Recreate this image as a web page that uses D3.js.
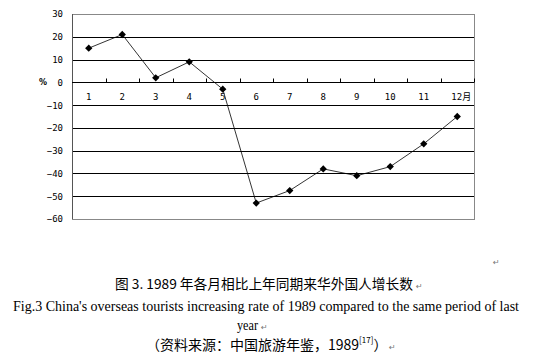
<!DOCTYPE html>
<html><head><meta charset="utf-8">
<script src="https://cdn.jsdelivr.net/npm/d3@7"></script>
<style>body{margin:0;background:#fff}svg{display:block}</style>
</head><body>
<svg id="c" width="539" height="357"></svg>
<script>
const months = ["1","2","3","4","5","6","7","8","9","10","11","12月"];
const values = [15, 21, 2, 9, -3, -53, -47.5, -38, -41, -37, -27, -15];
const yTicks = [30, 20, 10, 0, -10, -20, -30, -40, -50, -60];

const svg = d3.select("#c");
const L = 72, R = 474, T = 14, B = 219;
const x = d3.scaleBand().domain(months).range([L, R]);
const y = d3.scaleLinear().domain([-60, 30]).range([B, T]);

// gridlines
svg.append("g").selectAll("line").data(yTicks.filter(v => v !== 30 && v !== -60))
  .join("line").attr("x1", L).attr("x2", R)
  .attr("y1", d => Math.round(y(d)) + 0.5).attr("y2", d => Math.round(y(d)) + 0.5)
  .attr("stroke", "#000").attr("stroke-width", 1);
// border
svg.append("rect").attr("x", L + 0.5).attr("y", Math.round(T) + 0.5)
  .attr("width", R - L).attr("height", Math.round(B) - Math.round(T))
  .attr("fill", "none").attr("stroke", "#888");
svg.append("line").attr("x1", L + 0.5).attr("x2", L + 0.5).attr("y1", T).attr("y2", B)
  .attr("stroke", "#555");

// y axis labels
const yAxis = d3.axisLeft(y).tickValues(yTicks).tickSize(0).tickPadding(9)
  .tickFormat(d => d < 0 ? "\u2212" + Math.abs(d) : d);
const ga = svg.append("g").attr("transform", `translate(${L},0)`).call(yAxis);
ga.select(".domain").remove();
ga.selectAll("text").attr("font-family", "DejaVu Sans Mono").attr("font-size", 9).attr("fill", "#000");

svg.append("text").attr("x", 43).attr("y", y(0) + 3).attr("font-family", "DejaVu Sans")
  .attr("font-size", 8).attr("font-weight", "bold").attr("text-anchor", "middle").text("%");

// x axis at 0
const gx = svg.append("g").attr("transform", `translate(0,${Math.round(y(0)) + 0.5})`);
gx.append("line").attr("x1", L).attr("x2", R).attr("stroke", "#000");
gx.selectAll("line.tk").data(months).join("line").attr("class", "tk")
  .attr("x1", d => Math.round(x(d) + x.bandwidth()) + 0.5)
  .attr("x2", d => Math.round(x(d) + x.bandwidth()) + 0.5)
  .attr("y1", 0).attr("y2", -4).attr("stroke", "#000");
gx.selectAll("text").data(months).join("text")
  .attr("x", d => x(d) + x.bandwidth() / 2 + (d === "12月" ? 4 : 0))
  .attr("y", 17).attr("text-anchor", "middle")
  .attr("font-family", "DejaVu Sans Mono, Noto Sans CJK SC").attr("font-size", 9).text(d => d);

// line
const line = d3.line().x((d, i) => x(months[i]) + x.bandwidth() / 2).y(d => y(d));
svg.append("path").datum(values).attr("d", line).attr("fill", "none").attr("stroke", "#000").attr("stroke-width", 0.8);
svg.append("g").selectAll("path").data(values).join("path")
  .attr("transform", (d, i) => `translate(${x(months[i]) + x.bandwidth() / 2},${y(d)})`)
  .attr("d", d3.symbol(d3.symbolDiamond2, 34)).attr("fill", "#000");

// captions
const ret = "\u21B5";
function retMark(px, py) {
  svg.append("text").attr("x", px).attr("y", py).attr("font-size", 8).attr("fill", "#777")
    .attr("font-family", "DejaVu Sans").text(ret);
}
retMark(493, 265);
svg.append("text").attr("x", 115).attr("y", 289).attr("font-family", "Noto Sans CJK SC").attr("font-size", 13.5)
  .attr("textLength", 298).attr("lengthAdjust", "spacingAndGlyphs")
  .text("图 3. 1989 年各月相比上年同期来华外国人增长数");
retMark(416, 289);
svg.append("text").attr("x", 13).attr("y", 311).attr("font-family", "Liberation Serif").attr("font-size", 14.5)
  .attr("textLength", 506).attr("lengthAdjust", "spacingAndGlyphs")
  .text("Fig.3 China's overseas tourists increasing rate of 1989 compared to the same period of last");
svg.append("text").attr("x", 237).attr("y", 330).attr("font-family", "Liberation Serif").attr("font-size", 14.5)
  .attr("textLength", 21).attr("lengthAdjust", "spacingAndGlyphs").text("year");
retMark(261, 330);
const t4 = svg.append("text").attr("x", 146).attr("y", 350).attr("font-family", "Noto Sans CJK SC").attr("font-size", 14);
t4.append("tspan").text("（资料来源：中国旅游年鉴，1989");
t4.append("tspan").attr("font-size", 8).attr("dy", -7).text("[17]");
t4.append("tspan").attr("dy", 7).text("）");
retMark(389, 350);
</script>
</body></html>
